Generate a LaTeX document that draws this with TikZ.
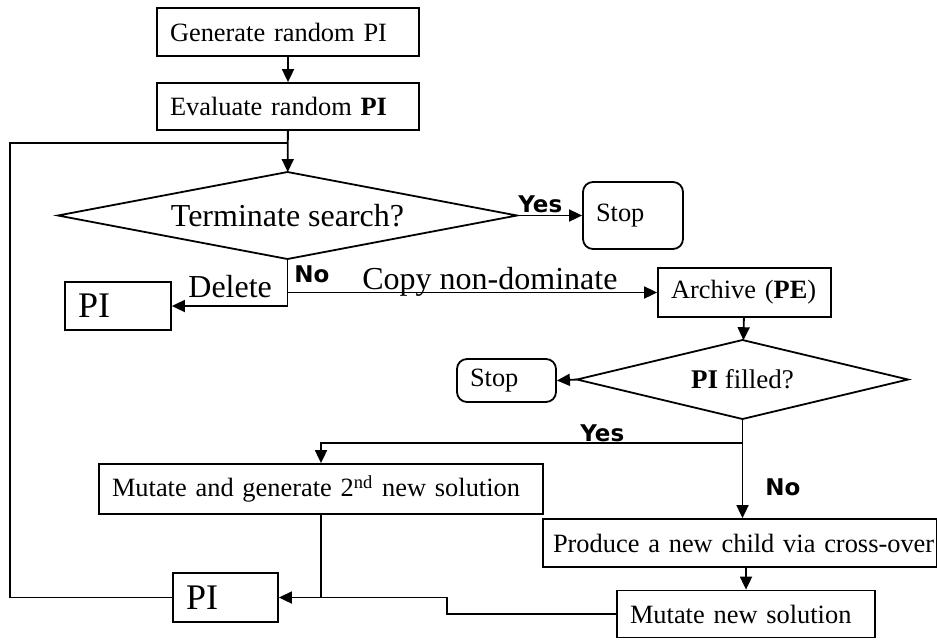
\documentclass[tikz,border=0pt]{standalone}
\usepackage{fontspec}
\setmainfont{Liberation Serif}
\newfontfamily\tagfont{DejaVu Sans}
\usetikzlibrary{shapes.geometric,arrows.meta,calc}
\tikzset{flow/.style={line width=0.9pt,-{Triangle[length=6.5pt,width=6pt]}},
  wire/.style={line width=0.9pt},
  panel/.style={draw,line width=0.9pt,rectangle,align=left,inner xsep=6.5pt,inner ysep=0pt,font=\fontsize{13.2}{15}\selectfont},
  halt/.style={panel,rounded corners=5pt},
  query/.style={draw,line width=0.9pt,diamond,inner sep=0pt,outer sep=0pt,font=\fontsize{16}{18}\selectfont},
  tag/.style={font=\tagfont\bfseries\fontsize{11.5}{13}\selectfont,inner sep=0pt},
  note/.style={font=\fontsize{16}{18}\selectfont,inner sep=0pt}}

\begin{document}
\begin{tikzpicture}[x=0.5pt,y=-0.5pt]
   \useasboundingbox (0,0) rectangle (937,639);
   % boxes
   \node[panel,text width=118pt,minimum height=24pt] (gen) at (288,32) {Generate random PI};
   \node[panel,text width=118pt,minimum height=23.5pt] (eval) at (288,106.5) {Evaluate random \textbf{PI}};
   \node[query,minimum width=229.5pt,minimum height=43.5pt,aspect=5.28] (term) at (287.5,215.5) {Terminate search?};
   \node[halt,text width=37pt,minimum height=33.5pt] (stopA) at (633,215.5) {Stop};
   \node[panel,text width=40pt,minimum height=24pt,font=\fontsize{18}{20}\selectfont] (piA) at (118,306) {PI};
   \node[panel,text width=73.5pt,minimum height=24.5pt] (arch) at (744.5,292.5) {Archive (\textbf{PE})};
   \node[query,minimum width=165.5pt,minimum height=39.5pt,aspect=4.19,font=\fontsize{13.5}{15}\selectfont] (full) at (742.5,379.5) {\textbf{PI} filled?};
   \node[halt,text width=36.5pt,minimum height=21.5pt] (stopB) at (506.5,380.5) {Stop};
   \node[panel,text width=209pt,minimum height=25pt] (mutA) at (321,489) {Mutate and generate 2\textsuperscript{nd} new solution};
   \node[panel,inner xsep=5pt,text width=187pt,minimum height=24pt] (child) at (740,543) {\mbox{Produce a new child via cross-over}};
   \node[panel,text width=116pt,minimum height=23.5pt] (mutB) at (746,614) {Mutate new solution};
   \node[panel,text width=39.5pt,minimum height=24.5pt,font=\fontsize{18}{20}\selectfont] (piB) at (225.5,597.5) {PI};
   % labels
   \node[tag,anchor=base west] (yesA) at (518,212) {Yes};
   \node[tag,anchor=base west] (noA) at (294,282) {No};
   \node[note,anchor=base west] (del) at (188,297) {Delete};
   \node[note,anchor=base west] (copy) at (362,289) {Copy non-dominate};
   \node[tag,anchor=base west] (yesB) at (580,441) {Yes};
   \node[tag,anchor=base west] (noB) at (765,495) {No};
   % connectors
   \draw[flow] (gen) -- (eval);
   \draw[flow] (eval) -- (term);
   \draw[flow] (term.east) -- (stopA);
   \draw[flow] (term.south) |- (piA.east);
   \draw[flow] (term.south) |- (arch.west);
   \draw[flow] (arch) -- (full);
   \draw[flow] (full.west) -- (stopB.east);
   \draw[wire] (full.south) -- ++(0,24) coordinate (fork);
   \draw[flow] (fork) -| (mutA.north);
   \draw[flow] (fork) -- (fork |- child.north);
   \draw[flow] (mutB.north |- child.south) -- (mutB.north);
   \coordinate (merge) at (mutA.south |- piB.east);
   \draw[flow] (mutA.south) |- (piB.east);
   \draw[wire] (mutB.west) -- ++(-169,0) |- (merge);
   \draw[wire] (piB.west) -- ++(-162,0) |- ($(eval.south)!0.3!(term.north)$);
\end{tikzpicture}
\end{document}
